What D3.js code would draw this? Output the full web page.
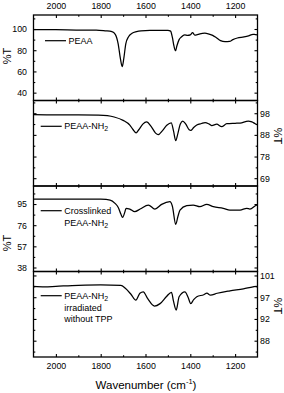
<!DOCTYPE html>
<html lang="en">
  <head>
    <meta charset="UTF-8" />
    <title>FTIR spectra</title>
    <style>
      html,
      body {
        margin: 0;
        background: #fff;
      }
      svg {
        display: block;
        font-family: 'Liberation Sans', Arial, sans-serif;
      }
    </style>
  </head>
  <body>
    <div id="chart"></div>
    <script src="https://cdnjs.cloudflare.com/ajax/libs/d3/7.8.5/d3.min.js"></script>
    <script>
      // wavenumber (cm-1) and %T
      const peaaWn = [2100, 2000, 1900, 1820, 1780, 1750, 1735, 1722, 1712, 1704, 1697, 1688, 1675, 1660, 1640, 1620, 1580, 1500, 1488, 1480, 1473, 1466, 1460, 1450, 1440, 1425, 1412, 1400, 1390, 1380, 1372, 1357, 1335, 1320, 1300, 1285, 1265, 1245, 1225, 1210, 1190, 1160, 1140, 1120, 1110, 1100];
      const peaaT = [99.3, 99.3, 99.0, 99.0, 98.3, 97.5, 95, 86, 72, 64.5, 72, 86, 93, 96, 97.5, 98.3, 98.8, 98.8, 98, 92, 84, 79.5, 84, 90, 92.5, 94.5, 94, 94.5, 96.5, 94.3, 94.5, 95.5, 96, 95.5, 94, 92, 89, 88, 88.3, 90, 91.5, 92.5, 93.5, 95, 94.7, 94.5];

      const amineWn = [2100, 2000, 1900, 1810, 1770, 1740, 1700, 1670, 1655, 1642, 1630, 1612, 1595, 1575, 1555, 1543, 1525, 1505, 1485, 1475, 1465, 1455, 1445, 1434, 1420, 1405, 1398, 1385, 1371, 1350, 1334, 1315, 1304, 1282, 1260, 1237, 1200, 1178, 1141, 1125, 1110, 1100];
      const amineT = [97.3, 97.2, 97.2, 97.1, 96.8, 96.2, 94.7, 92.6, 90.5, 89.1, 90.5, 93, 94, 92, 89, 88.3, 90, 92.5, 93.6, 90, 85.6, 89, 93, 94.4, 93, 90.5, 90.2, 91.5, 92.6, 93.3, 93.7, 93, 92.4, 93, 91.9, 93.2, 93.4, 93.5, 94.4, 94, 93.2, 92.8];

      const crossWn = [2100, 2000, 1850, 1800, 1758, 1736, 1721, 1710, 1702, 1692, 1687, 1670, 1648, 1624, 1587, 1558, 1528, 1491, 1480, 1465, 1455, 1446, 1416, 1387, 1357, 1327, 1297, 1253, 1223, 1178, 1148, 1134, 1104, 1100];
      const crossT = [99.5, 99.5, 99.5, 99.3, 98.6, 95.6, 91.7, 86, 83.1, 88, 91.2, 90.5, 88.1, 90.5, 94.1, 90.5, 94.7, 97.1, 93, 76.8, 84, 89.6, 93.5, 94.1, 92.6, 94.7, 92.6, 91.2, 89.6, 89.6, 91.2, 90.5, 94.1, 94.3];

      const irradWn = [2100, 2050, 2000, 1900, 1800, 1710, 1690, 1665, 1643, 1625, 1610, 1590, 1560, 1535, 1505, 1484, 1475, 1463, 1450, 1424, 1410, 1398, 1385, 1371, 1340, 1326, 1310, 1280, 1223, 1163, 1120, 1105, 1100];
      const irradT = [99.0, 98.9, 99.0, 99.2, 99.3, 99.2, 98.6, 97.4, 96.2, 97.6, 97.9, 96.5, 95.0, 95.5, 97.0, 97.8, 96, 94.2, 96.9, 97.9, 96.8, 95.5, 96.3, 96.9, 97.3, 97.6, 97.2, 97.6, 98.1, 98.5, 98.9, 99, 98.9];

      const xTicks = [2000, 1800, 1600, 1400, 1200];
      const xMinorTicks = [1900, 1700, 1500, 1300];

      const peaaYTicks = [100, 80, 60, 40];
      const peaaYLabels = ["100", "80", "60", "40"];
      const amineYTicks = [97.9, 88.2, 78.5, 68.8];
      const amineYLabels = ["98", "88", "78", "69"];
      const crossYTicks = [95, 76, 57, 38];
      const crossYLabels = ["95", "76", "57", "38"];
      const irradYTicks = [101.2, 96.8, 92.4, 88.0];
      const irradYLabels = ["101", "97", "92", "88"];

      const peaaName = ["PEAA"];
      const amineName = ["PEAA-NH2"];
      const crossName = ["Crosslinked", "PEAA-NH2"];
      const irradName = ["PEAA-NH2", "irradiated", "without TPP"];

      const W = 284,
        H = 393,
        left = 33.5,
        right = 257.5,
        top0 = 15,
        ph = 85.5;

      const panels = [
        { wn: peaaWn, t: peaaT, ticks: peaaYTicks, labels: peaaYLabels, name: peaaName, side: "left", domain: [32.6, 113.2], legend: [11.5, 25.7], titleY: 56 },
        { wn: amineWn, t: amineT, ticks: amineYTicks, labels: amineYLabels, name: amineName, side: "right", domain: [65.3, 103.6], legend: [7.2, 25.8], titleY: 136 },
        { wn: crossWn, t: crossT, ticks: crossYTicks, labels: crossYLabels, name: crossName, side: "left", domain: [34.4, 111.2], legend: [7.2, 24.7], titleY: 243 },
        { wn: irradWn, t: irradT, ticks: irradYTicks, labels: irradYLabels, name: irradName, side: "right", domain: [84.7, 102.0], legend: [7.2, 24.2], titleY: 306 },
      ];

      const svg = d3
        .select("#chart")
        .append("svg")
        .attr("width", W)
        .attr("height", H);

      const x = d3.scaleLinear().domain([2100, 1100]).range([left, right]);
      const xFmt = d3.format("d");

      function styleAxis(g) {
        g.select(".domain").remove();
        g.selectAll("line").attr("stroke", "#000").attr("stroke-width", 1.1);
        g.selectAll("text")
          .attr("fill", "#000")
          .attr("font-size", "8.8px")
          .attr("font-family", "'Liberation Sans', Arial, sans-serif");
      }

      // midpoints between major ticks, plus one half step past each end
      function minorOf(ticks, domain) {
        const step = ticks[1] - ticks[0];
        const out = [];
        for (let i = -1; i < ticks.length; i++) {
          const v = ticks[0] + step * (i + 0.5);
          if (v > domain[0] && v < domain[1]) out.push(v);
        }
        return out;
      }

      function addName(g, lines, lx, ly) {
        g.append("line")
          .attr("x1", lx)
          .attr("x2", lx + 21)
          .attr("y1", ly)
          .attr("y2", ly)
          .attr("stroke", "#000")
          .attr("stroke-width", 1.2);
        lines.forEach((s, i) => {
          const t = g
            .append("text")
            .attr("x", lx + 23.5)
            .attr("y", ly + i * 11.8)
            .attr("dy", "0.35em")
            .attr("font-size", "9px")
            .attr("fill", "#000");
          const m = s.match(/^(.*NH)2$/);
          if (m) {
            t.append("tspan").text(m[1]);
            t.append("tspan").attr("font-size", "7px").attr("dy", 2).text("2");
          } else {
            t.text(s);
          }
        });
      }

      panels.forEach((p, i) => {
        const top = top0 + i * ph;
        const bottom = top + ph;
        const y = d3.scaleLinear().domain(p.domain).range([bottom, top]);
        const g = svg.append("g");

        const line = d3
          .line()
          .x((d, j) => x(p.wn[j]))
          .y((d) => y(d))
          .curve(d3.curveMonotoneX);

        g.append("path")
          .datum(p.t)
          .attr("fill", "none")
          .attr("stroke", "#000")
          .attr("stroke-width", 1.25)
          .attr("stroke-linejoin", "round")
          .attr("d", line);

        // x ticks top and bottom, inward
        const topAxis = d3.axisTop(x).tickValues(xTicks).tickSize(-3).tickPadding(6)
          .tickFormat(i === 0 ? xFmt : "");
        g.append("g").attr("transform", `translate(0,${top})`).call(topAxis).call(styleAxis);
        g.append("g")
          .attr("transform", `translate(0,${top})`)
          .call(d3.axisTop(x).tickValues(xMinorTicks).tickSize(-1.8).tickFormat(""))
          .call(styleAxis);

        const botAxis = d3.axisBottom(x).tickValues(xTicks).tickSize(-3).tickPadding(6)
          .tickFormat(i === panels.length - 1 ? xFmt : "");
        g.append("g").attr("transform", `translate(0,${bottom})`).call(botAxis).call(styleAxis);
        g.append("g")
          .attr("transform", `translate(0,${bottom})`)
          .call(d3.axisBottom(x).tickValues(xMinorTicks).tickSize(-1.8).tickFormat(""))
          .call(styleAxis);

        // y ticks left and right, inward
        const fmt = (d) => p.labels[p.ticks.indexOf(d)];
        const minor = minorOf(p.ticks, p.domain);
        const leftAxis = d3.axisLeft(y).tickValues(p.ticks).tickSize(-3).tickPadding(6.5)
          .tickFormat(p.side === "left" ? fmt : "");
        g.append("g").attr("transform", `translate(${left},0)`).call(leftAxis).call(styleAxis);
        g.append("g")
          .attr("transform", `translate(${left},0)`)
          .call(d3.axisLeft(y).tickValues(minor).tickSize(-1.8).tickFormat(""))
          .call(styleAxis);

        const rightAxis = d3.axisRight(y).tickValues(p.ticks).tickSize(-3).tickPadding(2.5)
          .tickFormat(p.side === "right" ? fmt : "");
        g.append("g").attr("transform", `translate(${right},0)`).call(rightAxis).call(styleAxis);
        g.append("g")
          .attr("transform", `translate(${right},0)`)
          .call(d3.axisRight(y).tickValues(minor).tickSize(-1.8).tickFormat(""))
          .call(styleAxis);

        // frame
        g.append("rect")
          .attr("x", left)
          .attr("y", top)
          .attr("width", right - left)
          .attr("height", ph)
          .attr("fill", "none")
          .attr("stroke", "#000")
          .attr("stroke-width", 1.3);

        // %T title
        const tx = p.side === "left" ? 7.5 : 277.5;
        g.append("text")
          .attr("transform", `translate(${tx},${p.titleY}) rotate(${p.side === "left" ? -90 : 90})`)
          .attr("text-anchor", "middle")
          .attr("dy", "0.35em")
          .attr("font-size", "11px")
          .attr("fill", "#000")
          .text("%T");

        addName(g, p.name, left + p.legend[0], top + p.legend[1]);
      });

      const xt = svg
        .append("text")
        .attr("x", 146)
        .attr("y", 389)
        .attr("text-anchor", "middle")
        .attr("font-size", "11.5px")
        .attr("fill", "#000");
      xt.append("tspan").text("Wavenumber (cm");
      xt.append("tspan").attr("font-size", "7.5px").attr("dy", -5).text("-1");
      xt.append("tspan").attr("dy", 5).text(")");
    </script>
  </body>
</html>
